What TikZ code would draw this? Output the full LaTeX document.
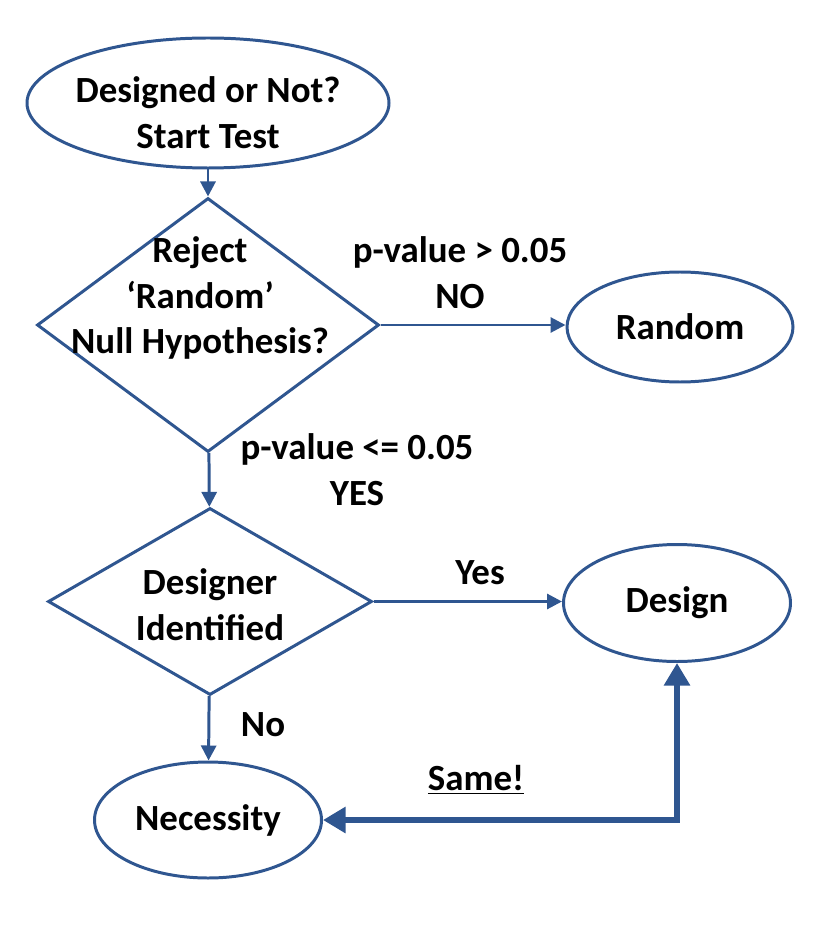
\documentclass[tikz,border=0pt]{standalone}
\usepackage{fontspec}
\setmainfont{Carlito}
\usetikzlibrary{shapes.geometric,arrows.meta}
\definecolor{flowblue}{HTML}{2F5690}
\tikzset{
  box/.style={draw=flowblue,line width=1.7pt,inner sep=0pt},
  oval/.style={box,ellipse},
  rhomb/.style={box,diamond},
  txt/.style={align=center,font=\fontsize{21}{26}\selectfont\bfseries},
  flow/.style={draw=flowblue,line width=1.7pt,-{Triangle[length=0.3cm,width=0.3cm]}},
}
\begin{document}
\begin{tikzpicture}
  \useasboundingbox (0,0) rectangle (16.4,-18.54);
  % shapes
  \node[oval,minimum width=7.24cm,minimum height=2.6cm] (start) at (4.16,-2.06) {};
  \node[txt] at (4.16,-2.26) {Designed or Not?\\Start Test};
  \node[rhomb,minimum width=6.84cm,minimum height=5.08cm] (reject) at (4.16,-6.5) {};
  \node[txt] at (4.0,-5.96) {Reject\\`Random'\\Null Hypothesis?};
  \node[oval,minimum width=4.52cm,minimum height=2.2cm] (random) at (13.6,-6.54) {};
  \node[txt] at (random) {Random};
  \node[rhomb,minimum width=6.48cm,minimum height=3.74cm] (ident) at (4.2,-12.03) {};
  \node[txt] at (4.2,-12.1) {Designer\\Identified};
  \node[oval,minimum width=4.54cm,minimum height=2.34cm] (design) at (13.54,-12.06) {};
  \node[txt] at (design) {Design};
  \node[oval,minimum width=4.54cm,minimum height=2.32cm] (necessity) at (4.16,-16.4) {};
  \node[txt] at (necessity) {Necessity};

  % labels
  \node[txt] (nolbl) at (9.2,-5.45) {p-value > 0.05\\NO};
  \node[txt] (yeslbl) at (7.14,-9.4) {p-value <= 0.05\\YES};
  \node[txt] (yes) at (9.6,-11.46) {Yes};
  \node[txt] (no) at (5.26,-14.5) {No};
  \node[txt] (same) at (9.52,-15.6) {\underline{Same!}};

  % connectors
  \draw[flow] (start) -- (reject);
  \draw[flow] (reject.east) -- (reject.east -| random.west);
  \draw[flow] (reject) -- (ident);
  \draw[flow] (ident.east) -- (ident.east -| design.west);
  \draw[flow] (ident) -- (necessity);
  \draw[draw=flowblue,line width=3.4pt,{Triangle[length=0.45cm,width=0.5cm]}-{Triangle[length=0.45cm,width=0.5cm]}]
    (necessity.east) -| (design.south);
\end{tikzpicture}
\end{document}
